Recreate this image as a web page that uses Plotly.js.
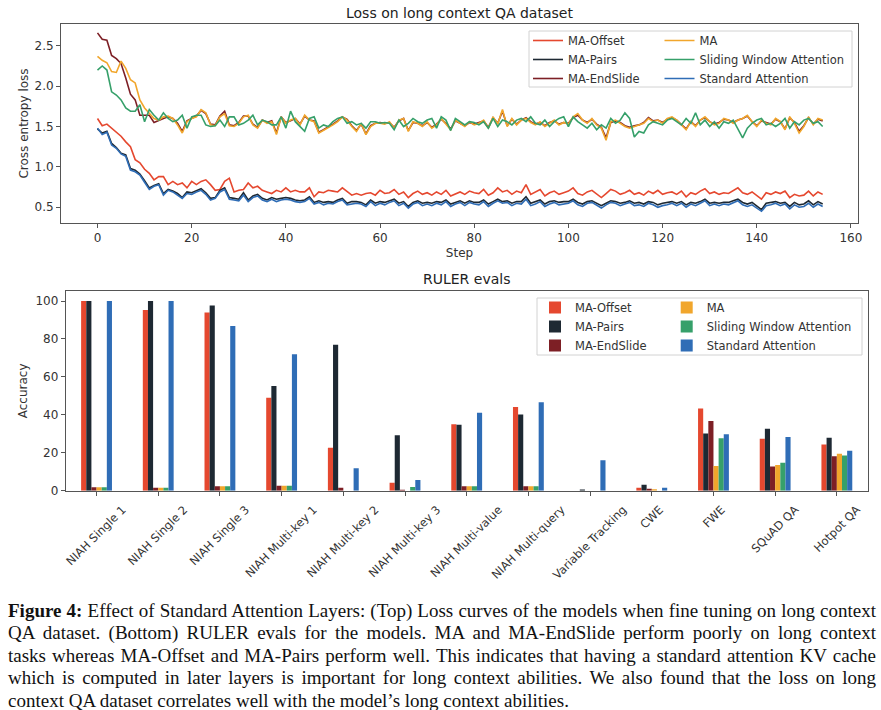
<!DOCTYPE html>
<html>
<head>
<meta charset="utf-8">
<script src="https://cdn.plot.ly/plotly-3.0.1.min.js"></script>
<style>
  html, body { margin: 0; padding: 0; background: #ffffff; }
  #wrap { position: relative; width: 881px; height: 710px; overflow: hidden; }
  #chart { position: absolute; left: 0; top: 0; width: 881px; height: 590px; }
  #caption { position: absolute; left: 8px; top: 600px; width: 868px;
             font-family: "Liberation Serif", "Times New Roman", serif; font-size: 19px;
             line-height: 22.4px; color: #111; }
  #caption .j { white-space: nowrap; text-align: justify; text-align-last: justify; }
  #caption .l { white-space: nowrap; text-align: left; }
</style>
</head>
<body>
<div id="wrap">
  <div id="chart"></div>
  <div id="caption">
    <div class="j"><b>Figure 4:</b> Effect of Standard Attention Layers: (Top) Loss curves of the models when fine tuning on long context</div>
    <div class="j">QA dataset. (Bottom) RULER evals for the models. MA and MA-EndSlide perform poorly on long context</div>
    <div class="j">tasks whereas MA-Offset and MA-Pairs perform well. This indicates that having a standard attention KV cache</div>
    <div class="j">which is computed in later layers is important for long context abilities. We also found that the loss on long</div>
    <div class="l">context QA dataset correlates well with the model’s long context abilities.</div>
  </div>
</div>
<script>
// ---------------- DATA ----------------
const seriesNames = ["MA-Offset", "MA-Pairs", "MA-EndSlide", "MA", "Sliding Window Attention", "Standard Attention"];

// Loss curves (step 0 .. 154)
const lossMAOffset = [
1.60,1.51,1.53,1.48,1.44,1.38,1.31,1.25,1.09,1.05,
0.97,0.92,0.84,0.88,0.88,0.78,0.82,0.78,0.80,0.74,
0.82,0.78,0.82,0.84,0.78,0.71,0.72,0.82,0.86,0.69,
0.71,0.72,0.80,0.74,0.76,0.71,0.69,0.67,0.71,0.69,
0.74,0.69,0.71,0.69,0.69,0.74,0.63,0.69,0.68,0.71,
0.70,0.69,0.74,0.69,0.65,0.67,0.65,0.67,0.68,0.65,
0.71,0.67,0.68,0.72,0.66,0.69,0.62,0.67,0.70,0.66,
0.68,0.65,0.69,0.66,0.71,0.64,0.67,0.69,0.66,0.70,
0.68,0.67,0.72,0.65,0.68,0.74,0.69,0.71,0.66,0.70,
0.68,0.78,0.66,0.69,0.72,0.64,0.68,0.70,0.66,0.68,
0.70,0.74,0.67,0.65,0.69,0.71,0.66,0.62,0.67,0.72,
0.70,0.66,0.68,0.71,0.66,0.68,0.65,0.70,0.67,0.71,
0.66,0.68,0.69,0.66,0.70,0.63,0.68,0.66,0.70,0.73,
0.67,0.69,0.66,0.68,0.67,0.70,0.74,0.68,0.66,0.69,
0.64,0.60,0.68,0.66,0.69,0.67,0.70,0.62,0.66,0.64,
0.65,0.70,0.64,0.69,0.66];

const lossMAPairs = [
1.47,1.42,1.44,1.29,1.24,1.17,1.15,0.98,0.96,0.91,
0.83,0.74,0.77,0.79,0.67,0.72,0.70,0.67,0.62,0.69,
0.68,0.71,0.73,0.68,0.61,0.62,0.71,0.74,0.62,0.61,
0.60,0.68,0.59,0.64,0.66,0.61,0.59,0.62,0.60,0.61,
0.62,0.61,0.59,0.58,0.59,0.63,0.56,0.58,0.56,0.57,
0.56,0.59,0.61,0.55,0.57,0.57,0.56,0.53,0.59,0.55,
0.57,0.56,0.58,0.60,0.55,0.57,0.51,0.56,0.58,0.55,
0.56,0.55,0.57,0.56,0.59,0.54,0.56,0.58,0.55,0.58,
0.56,0.56,0.59,0.54,0.57,0.60,0.57,0.58,0.55,0.57,
0.57,0.63,0.55,0.57,0.59,0.54,0.57,0.58,0.56,0.57,
0.57,0.60,0.56,0.54,0.57,0.58,0.55,0.52,0.55,0.58,
0.57,0.55,0.56,0.58,0.55,0.56,0.54,0.57,0.56,0.53,
0.55,0.56,0.57,0.55,0.57,0.53,0.56,0.55,0.57,0.60,
0.55,0.56,0.55,0.56,0.56,0.58,0.60,0.56,0.54,0.56,
0.52,0.47,0.55,0.56,0.57,0.55,0.56,0.51,0.56,0.53,
0.54,0.58,0.53,0.57,0.54];

const lossMAEndSlide = [
2.66,2.58,2.57,2.38,2.34,2.28,2.10,1.90,1.83,1.64,
1.64,1.64,1.55,1.58,1.60,1.62,1.60,1.54,1.44,1.57,
1.60,1.63,1.70,1.66,1.53,1.52,1.63,1.69,1.52,1.51,
1.55,1.63,1.63,1.53,1.49,1.58,1.55,1.57,1.42,1.62,
1.55,1.57,1.60,1.53,1.63,1.58,1.57,1.43,1.46,1.49,
1.53,1.57,1.62,1.59,1.51,1.45,1.53,1.41,1.51,1.54,
1.55,1.54,1.55,1.49,1.57,1.60,1.45,1.55,1.54,1.51,
1.55,1.49,1.53,1.59,1.54,1.47,1.57,1.54,1.51,1.55,
1.53,1.55,1.57,1.49,1.61,1.54,1.69,1.51,1.59,1.53,
1.58,1.61,1.56,1.53,1.55,1.51,1.55,1.57,1.53,1.55,
1.54,1.61,1.64,1.58,1.55,1.59,1.53,1.49,1.36,1.55,
1.57,1.55,1.51,1.49,1.51,1.52,1.55,1.61,1.57,1.58,
1.55,1.59,1.61,1.58,1.53,1.47,1.56,1.51,1.58,1.61,
1.56,1.53,1.55,1.59,1.58,1.55,1.58,1.60,1.63,1.56,
1.51,1.57,1.55,1.53,1.59,1.56,1.47,1.61,1.55,1.44,
1.51,1.61,1.53,1.59,1.57];

const lossMA = [
2.37,2.32,2.29,2.18,2.17,2.31,2.22,2.08,2.04,1.83,
1.73,1.67,1.60,1.58,1.62,1.63,1.60,1.52,1.42,1.56,
1.60,1.62,1.71,1.67,1.52,1.51,1.62,1.66,1.51,1.50,
1.54,1.62,1.64,1.52,1.48,1.58,1.54,1.56,1.40,1.62,
1.54,1.58,1.60,1.52,1.64,1.58,1.56,1.42,1.45,1.48,
1.52,1.56,1.62,1.58,1.50,1.44,1.54,1.40,1.50,1.54,
1.54,1.53,1.56,1.48,1.58,1.60,1.44,1.56,1.54,1.50,
1.56,1.48,1.52,1.60,1.53,1.46,1.58,1.54,1.50,1.56,
1.52,1.54,1.58,1.48,1.62,1.53,1.71,1.50,1.60,1.52,
1.58,1.60,1.55,1.52,1.56,1.50,1.54,1.58,1.52,1.55,
1.53,1.62,1.66,1.58,1.54,1.60,1.52,1.48,1.33,1.56,
1.58,1.54,1.50,1.48,1.50,1.52,1.54,1.60,1.56,1.58,
1.54,1.60,1.62,1.58,1.52,1.46,1.56,1.50,1.58,1.62,
1.56,1.52,1.54,1.60,1.58,1.54,1.58,1.60,1.64,1.56,
1.50,1.58,1.54,1.52,1.60,1.56,1.46,1.62,1.54,1.42,
1.50,1.62,1.52,1.60,1.58];

const lossSWA = [
2.20,2.25,2.20,1.93,1.89,1.83,1.73,1.69,1.69,1.77,
1.56,1.71,1.64,1.58,1.67,1.60,1.56,1.58,1.64,1.48,
1.62,1.64,1.64,1.52,1.50,1.51,1.58,1.50,1.62,1.62,
1.52,1.54,1.58,1.64,1.52,1.58,1.56,1.52,1.52,1.62,
1.48,1.69,1.56,1.50,1.44,1.60,1.62,1.48,1.52,1.50,
1.56,1.60,1.62,1.54,1.56,1.52,1.54,1.48,1.56,1.56,
1.54,1.55,1.54,1.46,1.58,1.50,1.54,1.60,1.56,1.54,
1.58,1.60,1.48,1.62,1.58,1.45,1.60,1.56,1.52,1.56,
1.55,1.52,1.56,1.48,1.60,1.50,1.58,1.56,1.52,1.58,
1.60,1.56,1.62,1.54,1.52,1.58,1.50,1.56,1.60,1.62,
1.50,1.62,1.56,1.52,1.48,1.54,1.46,1.52,1.48,1.60,
1.54,1.58,1.67,1.60,1.37,1.44,1.42,1.52,1.56,1.54,
1.52,1.58,1.60,1.56,1.52,1.60,1.54,1.67,1.52,1.58,
1.50,1.56,1.48,1.56,1.54,1.58,1.46,1.36,1.48,1.54,
1.58,1.60,1.52,1.54,1.50,1.54,1.60,1.48,1.56,1.52,
1.58,1.60,1.54,1.56,1.50];

const lossStandard = [
1.48,1.40,1.43,1.27,1.23,1.16,1.13,0.96,0.94,0.90,
0.81,0.72,0.76,0.78,0.65,0.71,0.69,0.65,0.61,0.67,
0.66,0.69,0.71,0.66,0.59,0.61,0.69,0.72,0.60,0.59,
0.58,0.65,0.57,0.62,0.64,0.59,0.57,0.60,0.57,0.59,
0.60,0.59,0.57,0.56,0.57,0.61,0.54,0.56,0.53,0.55,
0.54,0.57,0.59,0.53,0.54,0.55,0.54,0.51,0.57,0.52,
0.55,0.53,0.56,0.58,0.52,0.55,0.49,0.54,0.56,0.52,
0.54,0.52,0.55,0.53,0.57,0.51,0.54,0.56,0.52,0.56,
0.54,0.53,0.57,0.51,0.55,0.58,0.55,0.56,0.52,0.55,
0.54,0.60,0.52,0.54,0.57,0.51,0.54,0.56,0.53,0.54,
0.55,0.58,0.53,0.51,0.55,0.56,0.52,0.49,0.53,0.56,
0.55,0.52,0.54,0.56,0.52,0.53,0.51,0.55,0.53,0.50,
0.52,0.53,0.55,0.52,0.55,0.50,0.54,0.52,0.55,0.58,
0.52,0.54,0.52,0.54,0.53,0.56,0.58,0.53,0.51,0.53,
0.49,0.45,0.52,0.53,0.55,0.52,0.54,0.48,0.53,0.50,
0.51,0.55,0.50,0.54,0.51];

// RULER evals
const rulerTasks = ["NIAH Single 1", "NIAH Single 2", "NIAH Single 3", "NIAH Multi-key 1",
  "NIAH Multi-key 2", "NIAH Multi-key 3", "NIAH Multi-value", "NIAH Multi-query",
  "Variable Tracking", "CWE", "FWE", "SQuAD QA", "Hotpot QA"];
const accMAOffset   = [100, 95.3, 94.0, 49.0, 22.7, 4.2, 35.1, 44.1, 0.0, 1.6, 43.4, 27.4, 24.4];
const accMAPairs    = [100, 100, 97.7, 55.2, 77.0, 29.2, 34.8, 40.2, 0.6, 3.2, 30.2, 32.7, 27.9];
const accMAEndSlide = [1.8, 1.5, 2.3, 2.6, 1.6, 0.5, 2.4, 2.3, 0.0, 1.0, 36.7, 12.8, 18.1];
const accMA         = [1.8, 1.5, 2.3, 2.6, 0.0, 0.0, 2.4, 2.3, 0.0, 0.7, 13.0, 13.5, 19.5];
const accSWA        = [1.8, 1.5, 2.3, 2.6, 0.0, 1.9, 2.4, 2.3, 0.0, 0.0, 27.6, 14.8, 18.5];
const accStandard   = [100, 100, 86.8, 72.0, 11.8, 5.6, 41.1, 46.7, 16.0, 1.6, 29.7, 28.3, 21.1];

const xTicksTop = [0, 20, 40, 60, 80, 100, 120, 140, 160];
const yTicksTop = [0.5, 1.0, 1.5, 2.0, 2.5];
const yTicksBottom = [0, 20, 40, 60, 80, 100];

// ---------------- STYLE ----------------
const colors = ["#E5482F", "#1E2933", "#7D1F25", "#F1A62C", "#36A06A", "#2F6DB6"];
const W = 881, H = 590;
const fx = p => p / W;
const fy = p => 1 - p / H;
const FONT = "DejaVu Sans, Arial, sans-serif";
const TXT = "#333333";
const AX = "#555555";
const CAT_FONT_SIZE = 11.5;

const lossSeries = [lossMAOffset, lossMAPairs, lossMAEndSlide, lossMA, lossSWA, lossStandard];
const accSeries = [accMAOffset, accMAPairs, accMAEndSlide, accMA, accSWA, accStandard];

const traces = [];
lossSeries.forEach((ys, i) => {
  traces.push({
    type: "scatter", mode: "lines", name: seriesNames[i],
    x0: 0, dx: 1, y: ys,
    xaxis: "x", yaxis: "y",
    line: { color: colors[i], width: 1.6 },
    legend: i < 3 ? "legend" : "legend2",
    hoverinfo: "skip"
  });
});
accSeries.forEach((ys, i) => {
  traces.push({
    type: "bar", name: seriesNames[i],
    x: rulerTasks, y: ys,
    xaxis: "x2", yaxis: "y2",
    marker: { color: colors[i], line: { width: 0 } },
    legend: i < 3 ? "legend3" : "legend4",
    hoverinfo: "skip"
  });
});

const axBase = {
  showline: true, linecolor: AX, linewidth: 1, mirror: true,
  ticks: "outside", ticklen: 4, tickwidth: 1, tickcolor: AX,
  showgrid: false, zeroline: false,
  tickfont: { family: FONT, size: 12, color: TXT }
};
const legBase = {
  bgcolor: "rgba(0,0,0,0)", borderwidth: 0,
  font: { family: FONT, size: 11.5, color: TXT },
  xanchor: "left", yanchor: "top", orientation: "v", traceorder: "normal"
};

const layout = {
  width: W, height: H,
  margin: { l: 0, r: 0, t: 0, b: 0 },
  paper_bgcolor: "#ffffff", plot_bgcolor: "#ffffff",
  barmode: "group", bargap: 0.5, bargroupgap: 0,
  xaxis: Object.assign({}, axBase, {
    domain: [fx(61), fx(858)], anchor: "y",
    range: [-7.75, 161.5], tickmode: "array", tickvals: xTicksTop,
    title: { text: "Step", font: { family: FONT, size: 12, color: TXT }, standoff: 4 }
  }),
  yaxis: Object.assign({}, axBase, {
    domain: [fy(223), fy(24)], anchor: "x",
    range: [0.305, 2.77], tickmode: "array", tickvals: yTicksTop, tickformat: ".1f",
    title: { text: "Cross entropy loss", font: { family: FONT, size: 12, color: TXT }, standoff: 3 }
  }),
  xaxis2: Object.assign({}, axBase, {
    domain: [fx(65.7), fx(867.7)], anchor: "y2",
    type: "category", range: [-0.5, 12.5], showticklabels: false
  }),
  yaxis2: Object.assign({}, axBase, {
    domain: [fy(490.7), fy(291)], anchor: "x2",
    range: [0, 105.3], tickmode: "array", tickvals: yTicksBottom,
    title: { text: "Accuracy", font: { family: FONT, size: 12, color: TXT }, standoff: 5 }
  }),
  legend: Object.assign({}, legBase, { x: fx(528), y: fy(26) }),
  legend2: Object.assign({}, legBase, { x: fx(659.5), y: fy(26) }),
  legend3: Object.assign({}, legBase, { x: fx(535), y: fy(293) }),
  legend4: Object.assign({}, legBase, { x: fx(666.7), y: fy(293) }),
  shapes: [
    { type: "rect", xref: "paper", yref: "paper", layer: "above",
      x0: fx(529), x1: fx(852), y0: fy(87), y1: fy(31),
      fillcolor: "rgba(255,255,255,0.85)", line: { color: "#d2d2d2", width: 1 } },
    { type: "rect", xref: "paper", yref: "paper", layer: "above",
      x0: fx(537), x1: fx(862), y0: fy(355), y1: fy(298),
      fillcolor: "rgba(255,255,255,0.85)", line: { color: "#d2d2d2", width: 1 } }
  ],
  annotations: [
    { text: "Loss on long context QA dataset", xref: "paper", yref: "paper",
      x: fx(459.5), y: fy(13), xanchor: "center", yanchor: "middle", showarrow: false,
      font: { family: FONT, size: 14, color: "#222" } },
    { text: "RULER evals", xref: "paper", yref: "paper",
      x: fx(466.7), y: fy(279), xanchor: "center", yanchor: "middle", showarrow: false,
      font: { family: FONT, size: 14, color: "#222" } }
  ],
  showlegend: true
};

// Category tick labels: rotated 45° and centred on their tick (matplotlib style).
// Each label gets its own overlay axis so that its along-axis shift can match its length.
const measureCtx = document.createElement("canvas").getContext("2d");
measureCtx.font = CAT_FONT_SIZE + "px 'DejaVu Sans'";
rulerTasks.forEach((label, i) => {
  const w = measureCtx.measureText(label).width;
  const shift = Math.round(0.354 * (w + 13) - 6);
  const axKey = "xaxis" + (3 + i);
  layout[axKey] = {
    visible: true,
    overlaying: "x2", anchor: "y2", type: "linear", range: [-0.5, 12.5],
    tickmode: "array", tickvals: [i], ticktext: [label],
    ticks: "", showline: false, showgrid: false, zeroline: false,
    tickangle: -45, ticklabelshift: shift, ticklabelstandoff: 9,
    tickfont: { family: FONT, size: CAT_FONT_SIZE, color: TXT }
  };
  // empty carrier trace (no points) so the overlay label axis is created
  traces.push({ type: "scatter", mode: "lines", x: [], y: [],
    xaxis: "x" + (3 + i), yaxis: "y2", showlegend: false, hoverinfo: "skip" });
});

Plotly.newPlot("chart", traces, layout, { staticPlot: true, displayModeBar: false });
</script>
</body>
</html>
